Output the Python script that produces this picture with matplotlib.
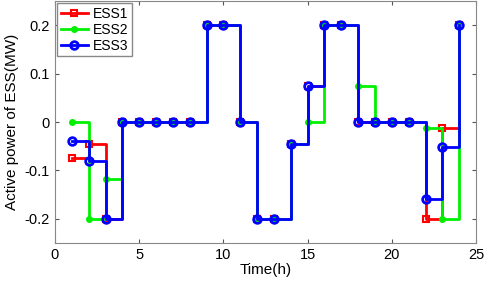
import numpy as np
import matplotlib
matplotlib.use("Agg")
import matplotlib.pyplot as plt

plt.rcParams['font.family'] = ['Liberation Sans', 'DejaVu Sans']

hours = np.arange(1, 25)
ess1 = [-0.075, -0.045, -0.2, 0, 0, 0, 0, 0, 0.2, 0.2, 0, -0.2,
        -0.2, -0.045, 0.075, 0.2, 0.2, 0, 0, 0, 0, -0.2, -0.012, 0.2]
ess2 = [0, -0.2, -0.117, 0, 0, 0, 0, 0, 0.2, 0.2, 0, -0.2,
        -0.2, -0.045, 0, 0.2, 0.2, 0.075, 0, 0, 0, -0.012, -0.2, 0.2]
ess3 = [-0.04, -0.08, -0.2, 0, 0, 0, 0, 0, 0.2, 0.2, 0, -0.2,
        -0.2, -0.045, 0.075, 0.2, 0.2, 0, 0, 0, 0, -0.16, -0.052, 0.2]

fig = plt.figure(figsize=(4.84, 2.87), dpi=100)
ax = fig.add_axes([0.1136, 0.1533, 0.87, 0.843])

ax.plot(hours, ess1, color='#ff0000', lw=2, marker='s', ms=4.5, mfc='none',
        mew=1.5, drawstyle='steps-post', label='ESS1')
ax.plot(hours, ess2, color='#00f000', lw=2, marker='o', ms=4, mfc='#00f000',
        mec='#00f000', drawstyle='steps-post', label='ESS2')
ax.plot(hours, ess3, color='#0000ff', lw=2, marker='o', ms=5.5, mfc='none',
        mew=2, drawstyle='steps-post', label='ESS3')

ax.set_xlim(0, 25)
ax.set_ylim(-0.25, 0.25)
ax.set_xticks([0, 5, 10, 15, 20, 25])
ax.set_yticks([-0.2, -0.1, 0, 0.1, 0.2])
ax.set_yticklabels(['-0.2', '-0.1', '0', '0.1', '0.2'])
ax.tick_params(direction='in', top=True, right=True, labelsize=10.5,
               length=3, color='#555555')
for s in ax.spines.values():
    s.set_color('#888888')
ax.set_xlabel('Time(h)', fontsize=11, labelpad=1)
ax.set_ylabel('Active power of ESS(MW)', fontsize=11, labelpad=4)

leg = ax.legend(loc='upper left', fontsize=10, handlelength=2,
                borderaxespad=0.15, borderpad=0.25, labelspacing=0.15,
                handletextpad=0.3, fancybox=False, framealpha=1)
leg.get_frame().set_edgecolor('#888888')

fig.savefig('out.png', dpi=100)
